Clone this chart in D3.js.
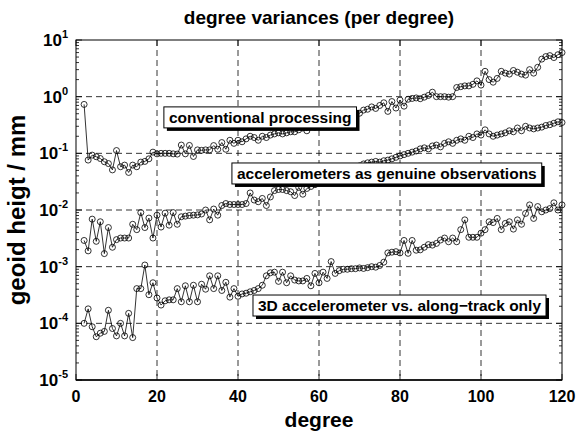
<!DOCTYPE html>
<meta charset="utf-8">
<head>
<style>
body { margin: 0; background: #fff; }
text { font-family: "Liberation Sans", Arial, sans-serif; font-weight: bold; fill: #000; }
.grid line { stroke: #000; stroke-width: 0.8; stroke-dasharray: 6,4; }
.series path { fill: none; stroke: #000; stroke-width: 0.8; }
.series circle { fill: none; stroke: #000; stroke-width: 0.8; }
</style>
</head>
<body>
<svg width="578" height="436"></svg>
<script src="https://d3js.org/d3.v7.min.js"></script>
<script>

// degrees 2..120
var degrees = d3.range(2, 121);

var conventional = [
  0.73, 0.076, 0.093, 0.087, 0.081, 0.071, 0.066, 0.051, 0.112, 0.058,
  0.062, 0.046, 0.062, 0.058, 0.07, 0.072, 0.08, 0.105, 0.098, 0.1,
  0.1, 0.1, 0.098, 0.097, 0.14, 0.098, 0.138, 0.088, 0.115, 0.113,
  0.115, 0.115, 0.137, 0.118, 0.155, 0.118, 0.17, 0.15, 0.17, 0.16,
  0.18, 0.2, 0.19, 0.17, 0.2, 0.19, 0.21, 0.22, 0.23, 0.22,
  0.23, 0.24, 0.24, 0.26, 0.28, 0.25, 0.3, 0.29, 0.32, 0.3,
  0.34, 0.36, 0.33, 0.38, 0.4, 0.37, 0.44, 0.46, 0.51, 0.58,
  0.6, 0.66, 0.62, 0.7, 0.78, 0.55, 0.82, 0.63, 0.87, 0.68,
  0.9, 0.93, 0.95, 0.92, 0.98, 1.05, 1.2, 1.0, 1.0, 1.0,
  0.98, 1.0, 1.45, 1.5, 1.55, 1.55, 1.65, 1.9, 1.6, 2.8,
  2.0, 1.8, 2.1, 2.8, 2.6, 2.5, 2.9, 2.7, 2.5, 2.4,
  3.0, 2.6, 3.3, 4.6, 5.1, 5.3, 4.9, 5.5, 6.0
];

var genuine = [
  0.0029, 0.0019, 0.0069, 0.0028, 0.0062, 0.0017, 0.0049, 0.0022, 0.0030, 0.0032,
  0.0032, 0.0032, 0.0056, 0.0045, 0.009, 0.0049, 0.0072, 0.0032, 0.0081, 0.005,
  0.0088, 0.0054, 0.009, 0.0056, 0.0076, 0.0078, 0.008, 0.0081, 0.0082, 0.0085,
  0.010, 0.0067, 0.0104, 0.0081, 0.012, 0.013, 0.0125, 0.0125, 0.0125, 0.0125,
  0.013, 0.02, 0.015, 0.014, 0.016, 0.012, 0.017, 0.022, 0.023, 0.023,
  0.022, 0.021, 0.018, 0.025, 0.019, 0.024, 0.026, 0.028, 0.03, 0.032,
  0.031, 0.035, 0.037, 0.04, 0.042, 0.045, 0.05, 0.055, 0.06, 0.065,
  0.068, 0.07, 0.072, 0.07, 0.074, 0.076, 0.08, 0.085, 0.09, 0.095,
  0.1, 0.105, 0.11, 0.12, 0.125, 0.12, 0.135, 0.14, 0.13, 0.15,
  0.16, 0.15, 0.17, 0.18, 0.17, 0.2, 0.19, 0.22, 0.21, 0.26,
  0.22, 0.2, 0.21, 0.22, 0.23, 0.25, 0.24, 0.28, 0.25, 0.3,
  0.28, 0.27, 0.28, 0.29, 0.31, 0.32, 0.34, 0.36, 0.35
];

var alongTrack = [
  1.0e-4, 1.8e-4, 8.7e-5, 5.8e-5, 6.7e-5, 7.2e-5, 1.7e-4, 8.1e-5, 6.0e-5, 1.0e-4,
  6.0e-5, 1.5e-4, 5.6e-5, 4.1e-4, 4.1e-4, 1.07e-3, 3.2e-4, 5.2e-4, 2.8e-4, 2.1e-4,
  2.5e-4, 2.6e-4, 2.6e-4, 4.1e-4, 2.4e-4, 4.6e-4, 2.4e-4, 4.7e-4, 2.4e-4, 4.9e-4,
  4.0e-4, 6.9e-4, 4.1e-4, 6.9e-4, 3.8e-4, 5.3e-4, 2.9e-4, 4.1e-4, 3.0e-4, 3.3e-4,
  3.4e-4, 3.6e-4, 3.8e-4, 4.1e-4, 4.7e-4, 6.9e-4, 7.8e-4, 8.0e-4, 5.5e-4, 8.0e-4,
  5.2e-4, 6.9e-4, 5.8e-4, 5.6e-4, 5.6e-4, 6.2e-4, 4.6e-4, 7.6e-4, 5.2e-4, 8.0e-4,
  6.2e-4, 1.23e-3, 7.6e-4, 8.5e-4, 9.0e-4, 9.0e-4, 9.2e-4, 9.2e-4, 9.5e-4, 9.3e-4,
  9.6e-4, 1.0e-3, 9.8e-4, 1.05e-3, 1.2e-3, 1.75e-3, 1.8e-3, 1.84e-3, 1.75e-3, 2.9e-3,
  1.72e-3, 2.9e-3, 1.95e-3, 1.98e-3, 2.2e-3, 2.45e-3, 2.4e-3, 2.57e-3, 2.95e-3, 3.2e-3,
  2.75e-3, 3.2e-3, 2.75e-3, 4.5e-3, 6.7e-3, 3.3e-3, 3.3e-3, 3.3e-3, 3.9e-3, 4.5e-3,
  6.2e-3, 6.0e-3, 7.1e-3, 4.5e-3, 5.8e-3, 6.2e-3, 4.6e-3, 6.7e-3, 5.6e-3, 8.7e-3,
  0.0123, 7.1e-3, 0.0115, 9.3e-3, 0.01, 0.0106, 0.0134, 0.01, 0.0123
];

var xTicks = [0, 20, 40, 60, 80, 100, 120];
var yExponents = [-5, -4, -3, -2, -1, 0, 1];

// label boxes, anchored at their top-left corner in data coordinates
var labelText = ["conventional processing", "accelerometers as genuine observations", "3D accelerometer vs. along\u2212track only"];
var labelDegree = [21.7, 38.5, 43.7];
var labelValue = [0.66, 0.0676, 3.16e-4];

var svg = d3.select("svg"),
    margin = {top: 40, right: 16, bottom: 56, left: 76},
    width = +svg.attr("width") - margin.left - margin.right,
    height = +svg.attr("height") - margin.top - margin.bottom,
    g = svg.append("g").attr("transform", "translate(" + margin.left + "," + margin.top + ")");

var x = d3.scaleLinear().domain([0, 120]).range([0, width]);
var y = d3.scaleLog().domain([1e-5, 1e1]).range([height, 0]);

// grid
var grid = g.append("g").attr("class", "grid");
grid.selectAll(".gx").data(xTicks.slice(1, -1)).enter().append("line")
    .attr("x1", function(d) { return x(d); }).attr("x2", function(d) { return x(d); })
    .attr("y1", 0).attr("y2", height);
grid.selectAll(".gy").data(yExponents.slice(1, -1)).enter().append("line")
    .attr("y1", function(d) { return y(Math.pow(10, d)); }).attr("y2", function(d) { return y(Math.pow(10, d)); })
    .attr("x1", 0).attr("x2", width);

// minor log ticks on both sides
var minor = [];
yExponents.slice(0, -1).forEach(function(e) {
  for (var k = 2; k < 10; k++) minor.push(k * Math.pow(10, e));
});
var ticks = g.append("g").attr("stroke", "#000").attr("stroke-width", 0.8);
minor.forEach(function(v) {
  ticks.append("line").attr("x1", 0).attr("x2", 3).attr("y1", y(v)).attr("y2", y(v));
  ticks.append("line").attr("x1", width).attr("x2", width - 3).attr("y1", y(v)).attr("y2", y(v));
});
yExponents.forEach(function(e) {
  var v = Math.pow(10, e);
  ticks.append("line").attr("x1", 0).attr("x2", 6).attr("y1", y(v)).attr("y2", y(v));
  ticks.append("line").attr("x1", width).attr("x2", width - 6).attr("y1", y(v)).attr("y2", y(v));
});
xTicks.forEach(function(t) {
  ticks.append("line").attr("x1", x(t)).attr("x2", x(t)).attr("y1", height).attr("y2", height - 6);
  ticks.append("line").attr("x1", x(t)).attr("x2", x(t)).attr("y1", 0).attr("y2", 6);
});

// series
var line = d3.line()
    .x(function(d) { return x(d[0]); })
    .y(function(d) { return y(d[1]); });

[conventional, genuine, alongTrack].forEach(function(vals) {
  var pts = degrees.map(function(d, i) { return [d, vals[i]]; });
  var s = g.append("g").attr("class", "series");
  s.append("path").attr("d", line(pts));
  s.selectAll("circle").data(pts).enter().append("circle")
      .attr("cx", function(d) { return x(d[0]); })
      .attr("cy", function(d) { return y(d[1]); })
      .attr("r", 3);
});

// frame
g.append("rect").attr("width", width).attr("height", height)
    .attr("fill", "none").attr("stroke", "#000").attr("stroke-width", 1);
g.append("line").attr("x1", 0).attr("x2", width).attr("y1", height).attr("y2", height)
    .attr("stroke", "#000").attr("stroke-width", 1.6);

// label boxes
labelText.forEach(function(t, i) {
  var bx = x(labelDegree[i]), by = y(labelValue[i]);
  var lb = g.append("g").attr("transform", "translate(" + bx + "," + by + ")");
  var shadow = lb.append("rect").attr("fill", "#000");
  var box = lb.append("rect").attr("fill", "#fff").attr("stroke", "#000").attr("stroke-width", 1);
  var txt = lb.append("text").attr("x", 5).attr("y", 16).style("font-size", "15.5px").text(t);
  var w = txt.node().getComputedTextLength() + 10;
  box.attr("width", w).attr("height", 21);
  shadow.attr("x", 3).attr("y", 3).attr("width", w).attr("height", 21);
});

// axis labels
xTicks.forEach(function(t) {
  svg.append("text").attr("x", margin.left + x(t)).attr("y", margin.top + height + 22)
      .attr("text-anchor", "middle").style("font-size", "16px").text(t);
});
yExponents.forEach(function(e) {
  var tx = svg.append("text").attr("x", margin.left - 8).attr("y", margin.top + y(Math.pow(10, e)) + 6)
      .attr("text-anchor", "end").style("font-size", "17px");
  tx.append("tspan").text("10");
  tx.append("tspan").attr("dy", -8).style("font-size", "11px").text(e);
});

svg.append("text").attr("x", margin.left + width / 2).attr("y", 24)
    .attr("text-anchor", "middle").style("font-size", "19px").text("degree variances (per degree)");
svg.append("text").attr("x", margin.left + width / 2).attr("y", 427)
    .attr("text-anchor", "middle").style("font-size", "21px").text("degree");
svg.append("text").attr("transform", "translate(25," + (margin.top + height / 2) + ") rotate(-90)")
    .attr("text-anchor", "middle").style("font-size", "24px").text("geoid heigt / mm");

</script>
</body>
</html>
